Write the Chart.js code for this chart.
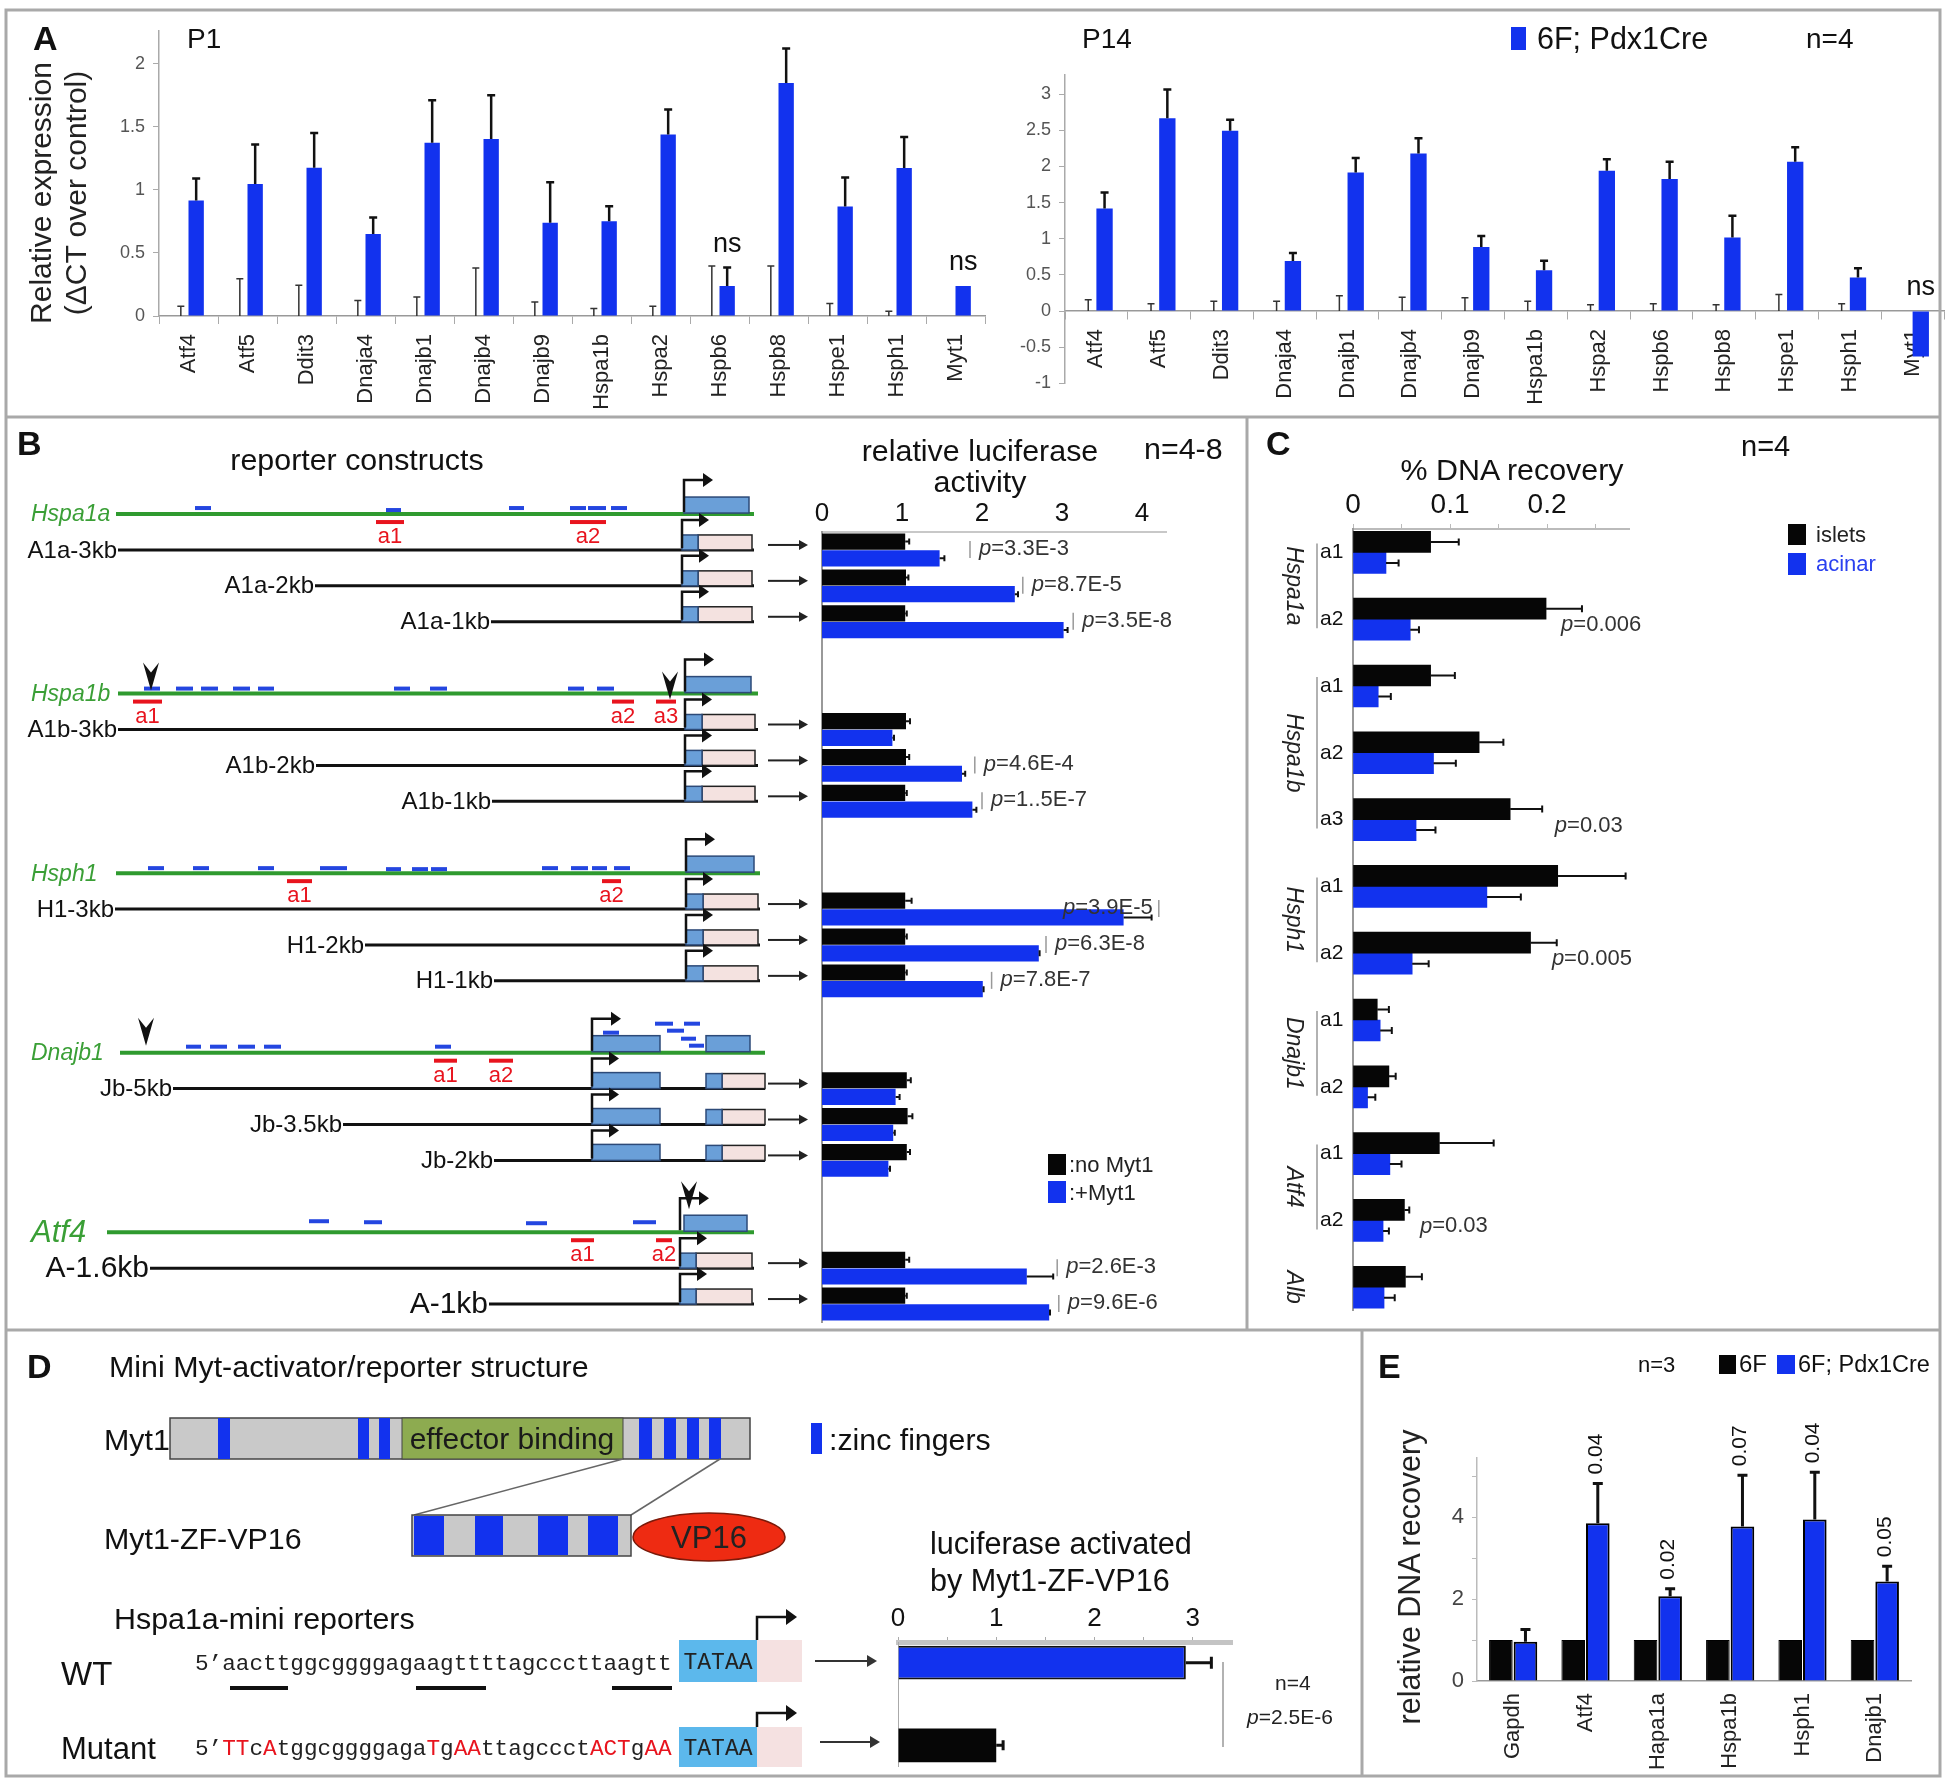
<!DOCTYPE html>
<html>
<head>
<meta charset="utf-8">
<title>Myt1 target genes</title>
<script src="https://cdn.jsdelivr.net/npm/chart.js@4.4.1/dist/chart.umd.min.js"></script>
<style>
  html, body { margin: 0; padding: 0; background: #fff; }
  #page { position: relative; width: 1950px; height: 1786px; overflow: hidden; background: #fff; }
  #page canvas { position: absolute; }
  #overlay { position: absolute; left: 0; top: 0; pointer-events: none; font-family: 'Liberation Sans', Arial, sans-serif; }
</style>
</head>
<body>
<div id="page">
  <canvas id="cP1" width="1000" height="412" style="left:0;top:12px;width:1000px;height:412px"></canvas>
  <canvas id="cP14" width="950" height="402" style="left:1000px;top:12px;width:950px;height:402px"></canvas>
  <canvas id="cB" width="1245" height="908" style="left:0;top:420px;width:1245px;height:908px"></canvas>
  <canvas id="cC" width="690" height="908" style="left:1250px;top:420px;width:690px;height:908px"></canvas>
  <canvas id="cD" width="400" height="190" style="left:860px;top:1580px;width:400px;height:190px"></canvas>
  <canvas id="cE" width="580" height="440" style="left:1365px;top:1333px;width:580px;height:440px"></canvas>

  <svg id="overlay" width="1950" height="1786" xmlns="http://www.w3.org/2000/svg">
    <!-- frame -->
    <g stroke="#a9a9a9" stroke-width="3" fill="none">
      <rect x="6" y="10" width="1934" height="1766"/>
      <line x1="6" y1="417" x2="1940" y2="417"/>
      <line x1="1247" y1="417" x2="1247" y2="1330"/>
      <line x1="6" y1="1330" x2="1940" y2="1330"/>
      <line x1="1362" y1="1330" x2="1362" y2="1776"/>
    </g>
    <g font-weight="bold" font-size="34" fill="#111">
      <text x="33" y="50">A</text>
      <text x="17" y="455">B</text>
      <text x="1266" y="455">C</text>
      <text x="27" y="1378">D</text>
      <text x="1378" y="1378">E</text>
    </g>

    <!-- panel A -->
    <text x="187" y="48" font-size="28" fill="#111">P1</text>
    <text x="1082" y="48" font-size="28" fill="#111">P14</text>
    <rect x="1511" y="27" width="15" height="23" fill="#1232ee"/>
    <text x="1537" y="49" font-size="30.5" fill="#111">6F; Pdx1Cre</text>
    <text x="1806" y="48" font-size="28" fill="#111">n=4</text>
    <text transform="translate(40,193) rotate(-90)" text-anchor="middle" dominant-baseline="central" font-size="30" fill="#222">Relative expression</text>
    <text transform="translate(75,193) rotate(-90)" text-anchor="middle" dominant-baseline="central" font-size="30" fill="#222">(ΔCT over control)</text>

    <!-- panel B -->
    <text x="357" y="470" text-anchor="middle" font-size="30.4" fill="#111">reporter constructs</text>
    <text x="980" y="461" text-anchor="middle" font-size="30.4" fill="#111">relative luciferase</text>
    <text x="980" y="492" text-anchor="middle" font-size="30.4" fill="#111">activity</text>
    <text x="1144" y="459" font-size="30.4" fill="#111">n=4-8</text>
    <rect x="1048" y="1154" width="18" height="21" fill="#060606"/>
    <text x="1069" y="1172" font-size="22" fill="#222">:no Myt1</text>
    <rect x="1048" y="1181" width="18" height="22" fill="#1232ee"/>
    <text x="1069" y="1200" font-size="22" fill="#222">:+Myt1</text>

    <!-- panel C -->
    <text x="1512" y="480" text-anchor="middle" font-size="30.4" fill="#111">% DNA recovery</text>
    <text x="1741" y="456" font-size="29" fill="#111">n=4</text>
    <rect x="1788" y="524" width="18" height="21" fill="#060606"/>
    <text x="1816" y="542" font-size="22" fill="#222">islets</text>
    <rect x="1788" y="553" width="18" height="22" fill="#1232ee"/>
    <text x="1816" y="571" font-size="22" fill="#2a40f0">acinar</text>

    <!-- panel D diagram -->
    <text x="109" y="1377" font-size="30.4" fill="#111">Mini Myt-activator/reporter structure</text>
    <text x="104" y="1450" font-size="30.4" fill="#111">Myt1</text>
    <rect x="170" y="1418" width="580" height="41" fill="#c9c9c9" stroke="#444" stroke-width="1.5"/>
    <rect x="402" y="1418" width="221" height="41" fill="#8dab50" stroke="#444" stroke-width="1"/>
    <g fill="#1232ee">
      <rect x="218" y="1418" width="12" height="41"/>
      <rect x="358" y="1418" width="11" height="41"/>
      <rect x="379" y="1418" width="11" height="41"/>
      <rect x="639" y="1418" width="13" height="41"/>
      <rect x="664" y="1418" width="12" height="41"/>
      <rect x="687" y="1418" width="12" height="41"/>
      <rect x="709" y="1418" width="12" height="41"/>
      <rect x="811" y="1423" width="11" height="31"/>
    </g>
    <text x="512" y="1449" text-anchor="middle" font-size="30" fill="#1a1a1a">effector binding</text>
    <text x="829" y="1450" font-size="30.3" fill="#111">:zinc fingers</text>
    <line x1="623" y1="1459" x2="414" y2="1515" stroke="#666" stroke-width="1.5"/>
    <line x1="720" y1="1459" x2="631" y2="1515" stroke="#666" stroke-width="1.5"/>
    <text x="104" y="1549" font-size="30.4" fill="#111">Myt1-ZF-VP16</text>
    <rect x="412" y="1515" width="219" height="41" fill="#c9c9c9" stroke="#444" stroke-width="1.5"/>
    <g fill="#1232ee">
      <rect x="414" y="1516" width="30" height="39"/>
      <rect x="475" y="1516" width="28" height="39"/>
      <rect x="538" y="1516" width="30" height="39"/>
      <rect x="588" y="1516" width="30" height="39"/>
    </g>
    <ellipse cx="709" cy="1537" rx="76" ry="24" fill="#ee2b12" stroke="#7a1a0a" stroke-width="1.5"/>
    <text x="709" y="1548" text-anchor="middle" font-size="31" fill="#222">VP16</text>
    <text x="930" y="1554" font-size="30.6" fill="#111">luciferase activated</text>
    <text x="930" y="1591" font-size="30.6" fill="#111">by Myt1-ZF-VP16</text>
    <text x="114" y="1629" font-size="30.4" fill="#111">Hspa1a-mini reporters</text>

    <text x="61" y="1685" font-size="33" fill="#111">WT</text>
    <text x="195" y="1670" font-family="'Liberation Mono', monospace" font-size="22.7" fill="#222">5’aacttggcggggagaagttttagcccttaagtt</text>
    <g fill="#111">
      <rect x="230" y="1686" width="58" height="4"/>
      <rect x="416" y="1686" width="70" height="4"/>
      <rect x="612" y="1686" width="60" height="4"/>
    </g>
    <rect x="679" y="1640" width="78" height="42" fill="#5cb8ec"/>
    <rect x="757" y="1640" width="45" height="42" fill="#f5e1e1"/>
    <text x="718" y="1669" text-anchor="middle" font-family="'Liberation Mono', monospace" font-size="23" fill="#222">TATAA</text>
    <path d="M757 1640 V1617 H787" stroke="#111" stroke-width="2.5" fill="none"/>
    <path d="M797 1617 L786 1609 L786 1625 Z" fill="#111"/>
    <line x1="815" y1="1661" x2="868" y2="1661" stroke="#333" stroke-width="2"/>
    <path d="M877 1661 L867 1655 L867 1667 Z" fill="#333"/>

    <text x="61" y="1759" font-size="31" fill="#111">Mutant</text>
    <text x="195" y="1755" font-family="'Liberation Mono', monospace" font-size="22.7" fill="#222">5’<tspan fill="#e8141e">TT</tspan>c<tspan fill="#e8141e">A</tspan>tggcggggaga<tspan fill="#e8141e">T</tspan>g<tspan fill="#e8141e">AA</tspan>ttagccct<tspan fill="#e8141e">ACT</tspan>g<tspan fill="#e8141e">AA</tspan></text>
    <rect x="679" y="1727" width="78" height="40" fill="#5cb8ec"/>
    <rect x="757" y="1727" width="45" height="40" fill="#f5e1e1"/>
    <text x="718" y="1755" text-anchor="middle" font-family="'Liberation Mono', monospace" font-size="23" fill="#222">TATAA</text>
    <path d="M757 1727 V1713 H787" stroke="#111" stroke-width="2.5" fill="none"/>
    <path d="M797 1713 L786 1705 L786 1721 Z" fill="#111"/>
    <line x1="820" y1="1742" x2="871" y2="1742" stroke="#333" stroke-width="2"/>
    <path d="M880 1742 L870 1736 L870 1748 Z" fill="#333"/>
    <line x1="1223" y1="1662" x2="1223" y2="1747" stroke="#999" stroke-width="1.5"/>
    <text x="1275" y="1690" font-size="21" fill="#222">n=4</text>
    <text x="1247" y="1724" font-size="21" fill="#222"><tspan font-style="italic">p</tspan>=2.5E-6</text>

    <!-- panel E -->
    <text x="1638" y="1372" font-size="22" fill="#111">n=3</text>
    <rect x="1719" y="1355" width="17" height="19" fill="#060606"/>
    <text x="1739" y="1372" font-size="24" fill="#111">6F</text>
    <rect x="1777" y="1355" width="18" height="19" fill="#1232ee"/>
    <text x="1798" y="1372" font-size="23.5" fill="#111">6F; Pdx1Cre</text>
    <text transform="translate(1409,1577) rotate(-90)" text-anchor="middle" dominant-baseline="central" font-size="30.5" fill="#222">relative DNA recovery</text>
  </svg>
</div>

<script>
const BLUE = '#1232ee';
const BLACK = '#060606';
const FONT = "'Liberation Sans', Arial, sans-serif";

// ---------- A: relative expression, P1 and P14 ----------
const genes = ['Atf4', 'Atf5', 'Ddit3', 'Dnaja4', 'Dnajb1', 'Dnajb4', 'Dnajb9', 'Hspa1b', 'Hspa2', 'Hspb6', 'Hspb8', 'Hspe1', 'Hsph1', 'Myt1'];
const p1Myt = [0.915, 1.046, 1.174, 0.649, 1.372, 1.403, 0.738, 0.751, 1.438, 0.238, 1.846, 0.867, 1.172, 0.238];
const p1MytErr = [0.175, 0.314, 0.276, 0.131, 0.338, 0.347, 0.322, 0.119, 0.198, 0.147, 0.274, 0.23, 0.246, null];
const p1CtrlErr = [0.077, 0.295, 0.244, 0.123, 0.15, 0.38, 0.11, 0.059, 0.077, 0.397, 0.397, 0.10, 0.038, null];
const p1Notes = ['', '', '', '', '', '', '', '', '', 'ns', '', '', '', 'ns'];
const p14Myt = [1.418, 2.665, 2.494, 0.693, 1.917, 2.18, 0.887, 0.564, 1.94, 1.825, 1.016, 2.065, 0.462, -0.63];
const p14MytErr = [0.22, 0.40, 0.15, 0.11, 0.20, 0.21, 0.15, 0.13, 0.16, 0.24, 0.30, 0.20, 0.13, null];
const p14CtrlErr = [0.157, 0.10, 0.134, 0.134, 0.21, 0.19, 0.185, 0.134, 0.088, 0.10, 0.088, 0.23, 0.10, null];
const p14Notes = ['', '', '', '', '', '', '', '', '', '', '', '', '', 'ns'];

// ---------- B: luciferase reporters ----------
const lucGroups = ['Hspa1a', 'Hspa1b', 'Hsph1', 'Dnajb1', 'Atf4'];
const lucPerGroup = [3, 3, 3, 3, 2];
const lucConstructs = ['A1a-3kb', 'A1a-2kb', 'A1a-1kb', 'A1b-3kb', 'A1b-2kb', 'A1b-1kb', 'H1-3kb', 'H1-2kb', 'H1-1kb', 'Jb-5kb', 'Jb-3.5kb', 'Jb-2kb', 'A-1.6kb', 'A-1kb'];
const lucNoMyt = [1.04, 1.05, 1.04, 1.05, 1.05, 1.04, 1.04, 1.04, 1.04, 1.06, 1.07, 1.06, 1.04, 1.04];
const lucNoMytErr = [0.05, 0.03, 0.02, 0.05, 0.04, 0.02, 0.08, 0.02, 0.02, 0.05, 0.06, 0.04, 0.05, 0.02];
const lucMyt = [1.47, 2.41, 3.02, 0.88, 1.75, 1.88, 3.77, 2.71, 2.01, 0.92, 0.89, 0.83, 2.56, 2.84];
const lucMytErr = [0.06, 0.04, 0.05, 0.02, 0.04, 0.05, 0.35, 0.01, 0.01, 0.05, 0.02, 0.02, 0.33, 0.01];
const lucP = ['p=3.3E-3', 'p=8.7E-5', 'p=3.5E-8', '', 'p=4.6E-4', 'p=1..5E-7', 'p=3.9E-5', 'p=6.3E-8', 'p=7.8E-7', '', '', '', 'p=2.6E-3', 'p=9.6E-6'];
const lucPMark = [1.85, 2.51, 3.14, null, 1.91, 2.0, 4.21, 2.8, 2.12, null, null, null, 2.94, 2.96];

// ---------- C: ChIP, % DNA recovery ----------
const chipGenes = ['Hspa1a', 'Hspa1a', 'Hspa1b', 'Hspa1b', 'Hspa1b', 'Hsph1', 'Hsph1', 'Dnajb1', 'Dnajb1', 'Atf4', 'Atf4', 'Alb'];
const chipSites = ['a1', 'a2', 'a1', 'a2', 'a3', 'a1', 'a2', 'a1', 'a2', 'a1', 'a2', ''];
const islets = [0.080, 0.199, 0.080, 0.130, 0.162, 0.211, 0.183, 0.025, 0.037, 0.089, 0.053, 0.054];
const isletsErr = [0.029, 0.037, 0.025, 0.025, 0.033, 0.070, 0.027, 0.012, 0.007, 0.056, 0.005, 0.017];
const acinar = [0.034, 0.059, 0.026, 0.083, 0.065, 0.138, 0.061, 0.028, 0.015, 0.038, 0.031, 0.032];
const acinarErr = [0.013, 0.009, 0.013, 0.023, 0.020, 0.035, 0.017, 0.012, 0.008, 0.012, 0.006, 0.011];
const chipP = ['', 'p=0.006', '', '', 'p=0.03', '', 'p=0.005', '', '', '', 'p=0.03', ''];
const chipPAt = [null, 0.2145, null, null, 0.208, null, 0.205, null, null, null, 0.069, null];

// ---------- D: mini reporters ----------
const miniLabels = ['WT', 'Mutant'];
const miniValues = [2.93, 1.0];
const miniErr = [0.26, 0.07];

// ---------- E: ChIP 6F vs 6F; Pdx1Cre ----------
const eGenes = ['Gapdh', 'Atf4', 'Hapa1a', 'Hspa1b', 'Hsph1', 'Dnajb1'];
const e6F = [1, 1, 1, 1, 1, 1];
const ePdx = [0.955, 3.85, 2.07, 3.77, 3.94, 2.43];
const ePdxErr = [0.30, 0.97, 0.18, 1.25, 1.15, 0.37];
const eP = ['', '0.04', '0.02', '0.07', '0.04', '0.05'];

Chart.defaults.font.family = FONT;
Chart.defaults.color = '#222';
Chart.defaults.animation = false;
Chart.defaults.plugins.legend.display = false;
Chart.defaults.plugins.tooltip.enabled = false;

const fixW = w => s => { s.width = w; };
const fixH = h => s => { s.height = h; };
const plain = v => String(+Number(v).toFixed(2));

// one-sided error bars read from dataset.errors
const errorBars = {
  id: 'errorBars',
  afterDatasetsDraw(chart) {
    const ctx = chart.ctx;
    const horiz = chart.options.indexAxis === 'y';
    const vScale = horiz ? chart.scales.x : chart.scales.y;
    chart.data.datasets.forEach((ds, di) => {
      if (!ds.errors) return;
      const meta = chart.getDatasetMeta(di);
      meta.data.forEach((bar, i) => {
        const e = ds.errors[i];
        const p = meta.controller.getParsed(i);
        const v = p ? (horiz ? p.x : p.y) : null;
        if (e == null || v == null || isNaN(v)) return;
        const base = vScale.getPixelForValue(v);
        const tip = vScale.getPixelForValue(v + e);
        const c = (ds.capSize || 8) / 2;
        ctx.save();
        ctx.strokeStyle = ds.errColor || '#111';
        ctx.lineWidth = ds.errWidth || 2;
        ctx.beginPath();
        if (horiz) {
          ctx.moveTo(base, bar.y); ctx.lineTo(tip, bar.y);
          ctx.moveTo(tip, bar.y - c); ctx.lineTo(tip, bar.y + c);
        } else {
          ctx.moveTo(bar.x, base); ctx.lineTo(bar.x, tip);
          ctx.moveTo(bar.x - c, tip); ctx.lineTo(bar.x + c, tip);
        }
        ctx.stroke();
        ctx.restore();
      });
    });
  }
};

// text placed above a bar (ns / p-values)
const barNotes = {
  id: 'barNotes',
  afterDatasetsDraw(chart) {
    const ctx = chart.ctx, y = chart.scales.y;
    chart.data.datasets.forEach((ds, di) => {
      if (!ds.notes) return;
      const meta = chart.getDatasetMeta(di);
      meta.data.forEach((bar, i) => {
        const t = ds.notes[i];
        if (!t) return;
        const top = y.getPixelForValue(Math.max(ds.data[i] + (ds.errors[i] || 0), 0));
        ctx.save();
        ctx.fillStyle = '#111';
        ctx.font = ds.noteFont;
        ctx.textBaseline = 'middle';
        if (ds.noteRotate) {
          ctx.translate(bar.x - 2, top - 9);
          ctx.rotate(-Math.PI / 2);
          ctx.textAlign = 'left';
          ctx.fillText(t, 0, 0);
        } else {
          ctx.textAlign = 'center';
          ctx.fillText(t, bar.x, top - 23);
        }
        ctx.restore();
      });
    });
  }
};

function expressionChart(id, myt, mytErr, ctrlErr, notes, yOpts, xPos, pad, xH) {
  return new Chart(document.getElementById(id), {
    type: 'bar',
    data: {
      labels: genes,
      datasets: [
        { label: 'control', data: genes.map(() => 0), errors: ctrlErr, backgroundColor: 'rgba(0,0,0,0)',
          errColor: '#333', errWidth: 1.5, capSize: 7 },
        { label: '6F; Pdx1Cre', data: myt, errors: mytErr, backgroundColor: BLUE,
          errColor: '#111', errWidth: 2.5, capSize: 8, notes: notes, noteFont: '27px ' + FONT }
      ]
    },
    options: {
      responsive: false, devicePixelRatio: 1,
      layout: { padding: pad },
      datasets: { bar: { categoryPercentage: 0.52, barPercentage: 1 } },
      scales: {
        x: {
          position: xPos,
          grid: { drawOnChartArea: false, tickLength: 8, color: '#aaa' },
          border: { color: '#999', width: 1.5 },
          ticks: { minRotation: 90, maxRotation: 90, autoSkip: false, font: { size: 22 }, color: '#222', padding: 10 },
          afterFit: fixH(xH)
        },
        y: Object.assign({
          ticks: { stepSize: 0.5, includeBounds: false, font: { size: 18 }, color: '#555', padding: 8, callback: plain },
          grid: { drawOnChartArea: false, tickLength: 6, color: '#aaa' },
          border: { color: '#aaa', width: 1.5 },
          afterFit: fixW(60)
        }, yOpts)
      }
    },
    plugins: [errorBars, barNotes]
  });
}

expressionChart('cP1', p1Myt, p1MytErr, p1CtrlErr, p1Notes, { min: 0, max: 2.26 }, 'bottom',
  { left: 99, top: 10, right: 15, bottom: 0 }, 108);
expressionChart('cP14', p14Myt, p14MytErr, p14CtrlErr, p14Notes, { min: -1, max: 3.27 }, { y: 0 },
  { left: 5, top: 62.6, right: 6, bottom: 30.7 }, 98);

// ---------- B: rows, with gene maps drawn on the same y scale ----------
const rowOf = [], geneRowOf = [];
let r = 0, c = 0;
lucPerGroup.forEach((n, gi) => {
  if (gi > 0) r += 2;
  geneRowOf.push(r - 1);
  for (let j = 0; j < n; j++) rowOf[c++] = r++;
});
const nRows = r;
const bLabels = Array(nRows).fill('');
const bNo = Array(nRows).fill(null), bNoErr = Array(nRows).fill(null);
const bMyt = Array(nRows).fill(null), bMytErr = Array(nRows).fill(null);
rowOf.forEach((row, i) => {
  bLabels[row] = lucConstructs[i];
  bNo[row] = lucNoMyt[i]; bNoErr[row] = lucNoMytErr[i];
  bMyt[row] = lucMyt[i]; bMytErr[row] = lucMytErr[i];
});

// drawing geometry of the gene maps (pixels)
const mapArt = [
  { line: [116, 754], exons: [[684, 749]], tss: 684,
    sites: [[195, 211, -6], [386, 401, -4], [509, 524, -6], [570, 586, -6], [588, 606, -6], [611, 627, -6]],
    red: [[376, 404, 'a1'], [570, 606, 'a2']], chev: [],
    starts: [118, 315, 491], rep: [[682, 698], [698, 752]], cExon: null, big: false },
  { line: [118, 758], exons: [[685, 751]], tss: 685,
    sites: [[144, 160, -5], [176, 193, -5], [201, 218, -5], [233, 250, -5], [258, 274, -5], [394, 410, -5], [430, 447, -5], [568, 584, -5], [597, 614, -5]],
    red: [[133, 162, 'a1'], [612, 634, 'a2'], [656, 676, 'a3']], chev: [[151, -3], [670, 6]],
    starts: [118, 316, 492], rep: [[685, 702], [702, 755]], cExon: null, big: false },
  { line: [116, 760], exons: [[686, 754]], tss: 686,
    sites: [[148, 164, -5], [193, 209, -5], [258, 274, -5], [320, 347, -5], [386, 401, -4], [412, 428, -4], [431, 447, -4], [542, 558, -5], [571, 588, -5], [592, 607, -5], [614, 630, -5]],
    red: [[287, 312, 'a1'], [602, 621, 'a2']], chev: [],
    starts: [115, 365, 494], rep: [[686, 703], [703, 758]], cExon: null, big: false },
  { line: [120, 765], exons: [[592, 660], [706, 750]], tss: 592,
    sites: [[186, 201, -6], [210, 227, -6], [238, 255, -6], [264, 281, -6], [435, 451, -6], [603, 619, -20], [655, 673, -29], [684, 700, -29], [667, 684, -22], [681, 696, -14], [689, 704, -7]],
    red: [[434, 457, 'a1'], [489, 513, 'a2']], chev: [[146, -7]],
    starts: [173, 343, 494], rep: [[706, 722], [722, 765]], cExon: [592, 660], big: false },
  { line: [107, 754], exons: [[684, 747]], tss: 680,
    sites: [[309, 329, -11], [364, 382, -10], [526, 547, -9], [633, 656, -10]],
    red: [[571, 594, 'a1'], [656, 672, 'a2']], chev: [[689, -23]],
    starts: [150, 489], rep: [[680, 696], [696, 752]], cExon: null, big: true }
];

function bentArrow(ctx, x, y, h, w) {
  ctx.beginPath(); ctx.moveTo(x, y); ctx.lineTo(x, y - h); ctx.lineTo(x + w, y - h); ctx.stroke();
  ctx.beginPath(); ctx.moveTo(x + w + 9, y - h); ctx.lineTo(x + w - 1, y - h - 7); ctx.lineTo(x + w - 1, y - h + 7);
  ctx.closePath(); ctx.fill();
}
function chevron(ctx, x, tip) {
  ctx.beginPath(); ctx.moveTo(x, tip); ctx.lineTo(x - 8, tip - 28); ctx.lineTo(x, tip - 18); ctx.lineTo(x + 8, tip - 28);
  ctx.closePath(); ctx.fill();
}
function pText(ctx, t, x, y, align) {
  const rest = t.slice(1);
  ctx.font = 'italic 22px ' + FONT;
  const wp = ctx.measureText('p').width;
  ctx.font = '22px ' + FONT;
  const wr = ctx.measureText(rest).width;
  const x0 = align === 'right' ? x - wp - wr : x;
  ctx.textAlign = 'left';
  ctx.font = 'italic 22px ' + FONT; ctx.fillText('p', x0, y);
  ctx.font = '22px ' + FONT; ctx.fillText(rest, x0 + wp, y);
}

const luciferaseMaps = {
  id: 'luciferaseMaps',
  afterDraw(chart) {
    const ctx = chart.ctx, ys = chart.scales.y, xs = chart.scales.x;
    ctx.save();
    ctx.textBaseline = 'middle';
    let ci = 0;
    lucGroups.forEach((g, gi) => {
      const a = mapArt[gi];
      const gy = ys.getPixelForValue(geneRowOf[gi]);
      // gene line
      ctx.fillStyle = '#3a9f36';
      ctx.font = 'italic ' + (a.big ? 31 : 23) + 'px ' + FONT;
      ctx.textAlign = 'left';
      ctx.fillText(g, 31, gy + 1);
      ctx.strokeStyle = '#2f9a2f'; ctx.lineWidth = 4;
      ctx.beginPath(); ctx.moveTo(a.line[0], gy); ctx.lineTo(a.line[1], gy); ctx.stroke();
      a.exons.forEach(e => {
        ctx.fillStyle = '#6a9fd8'; ctx.fillRect(e[0], gy - 17, e[1] - e[0], 16);
        ctx.strokeStyle = '#2d4a78'; ctx.lineWidth = 1.5; ctx.strokeRect(e[0], gy - 17, e[1] - e[0], 16);
      });
      ctx.strokeStyle = '#111'; ctx.fillStyle = '#111'; ctx.lineWidth = 2.5;
      bentArrow(ctx, a.tss, gy - 2, 32, 20);
      ctx.fillStyle = '#2446e0';
      a.sites.forEach(s => ctx.fillRect(s[0], gy + s[2] - 2, s[1] - s[0], 4));
      a.red.forEach(s => {
        ctx.fillStyle = '#e8141e';
        ctx.fillRect(s[0], gy + 6, s[1] - s[0], 4);
        ctx.font = '22px ' + FONT; ctx.textAlign = 'center';
        ctx.fillText(s[2], (s[0] + s[1]) / 2, gy + 23);
      });
      ctx.fillStyle = '#111';
      a.chev.forEach(cv => chevron(ctx, cv[0], gy + cv[1]));
      // constructs
      for (let j = 0; j < lucPerGroup[gi]; j++, ci++) {
        const y = ys.getPixelForValue(rowOf[ci]);
        const x0 = a.starts[j];
        ctx.fillStyle = '#111';
        ctx.font = (a.big ? 30 : 24) + 'px ' + FONT;
        ctx.textAlign = 'right';
        ctx.fillText(lucConstructs[ci], x0 - 1, y + 1);
        ctx.strokeStyle = '#111'; ctx.lineWidth = 3;
        ctx.beginPath(); ctx.moveTo(x0, y); ctx.lineTo(a.line[1], y); ctx.stroke();
        if (a.cExon) {
          ctx.fillStyle = '#6a9fd8'; ctx.fillRect(a.cExon[0], y - 16, a.cExon[1] - a.cExon[0], 16);
          ctx.strokeStyle = '#2d4a78'; ctx.lineWidth = 1.5; ctx.strokeRect(a.cExon[0], y - 16, a.cExon[1] - a.cExon[0], 16);
        }
        ctx.fillStyle = '#f4e2e0'; ctx.fillRect(a.rep[1][0], y - 15, a.rep[1][1] - a.rep[1][0], 15);
        ctx.strokeStyle = '#222'; ctx.lineWidth = 1.5; ctx.strokeRect(a.rep[1][0], y - 15, a.rep[1][1] - a.rep[1][0], 15);
        ctx.fillStyle = '#6a9fd8'; ctx.fillRect(a.rep[0][0], y - 15, a.rep[0][1] - a.rep[0][0], 15);
        ctx.strokeStyle = '#2d4a78'; ctx.strokeRect(a.rep[0][0], y - 15, a.rep[0][1] - a.rep[0][0], 15);
        ctx.strokeStyle = '#111'; ctx.fillStyle = '#111'; ctx.lineWidth = 2.5;
        bentArrow(ctx, a.cExon ? a.cExon[0] : a.rep[0][0], y - 2, 28, 18);
        ctx.strokeStyle = '#222'; ctx.lineWidth = 2;
        ctx.beginPath(); ctx.moveTo(768, y - 5); ctx.lineTo(800, y - 5); ctx.stroke();
        ctx.fillStyle = '#222';
        ctx.beginPath(); ctx.moveTo(808, y - 5); ctx.lineTo(799, y - 10); ctx.lineTo(799, y); ctx.closePath(); ctx.fill();
        // p value
        if (lucP[ci]) {
          const mx = xs.getPixelForValue(lucPMark[ci]);
          ctx.strokeStyle = '#999'; ctx.lineWidth = 1.5;
          ctx.beginPath(); ctx.moveTo(mx, y - 9); ctx.lineTo(mx, y + 8); ctx.stroke();
          ctx.fillStyle = '#333';
          if (lucPMark[ci] > 4) pText(ctx, lucP[ci], mx - 6, y - 1, 'right');
          else pText(ctx, lucP[ci], mx + 9, y - 1, 'left');
        }
      }
    });
    ctx.restore();
  }
};

new Chart(document.getElementById('cB'), {
  type: 'bar',
  data: {
    labels: bLabels,
    datasets: [
      { label: ':no Myt1', data: bNo, errors: bNoErr, backgroundColor: BLACK, errWidth: 2, capSize: 6 },
      { label: ':+Myt1', data: bMyt, errors: bMytErr, backgroundColor: BLUE, errWidth: 2, capSize: 6 }
    ]
  },
  options: {
    responsive: false, devicePixelRatio: 1, indexAxis: 'y',
    layout: { padding: { left: 822, top: 72, right: 79, bottom: 6 } },
    datasets: { bar: { categoryPercentage: 0.93, barPercentage: 0.97 } },
    scales: {
      x: {
        position: 'top', min: 0, max: 4.3,
        ticks: { stepSize: 1, includeBounds: false, font: { size: 26 }, color: '#111', padding: 3 },
        grid: { display: false, drawTicks: false },
        border: { color: '#c8c8c8', width: 2 },
        afterFit: fixH(40)
      },
      y: {
        ticks: { display: false }, grid: { display: false, drawTicks: false },
        border: { color: '#999', width: 2 },
        afterFit: fixW(0)
      }
    }
  },
  plugins: [errorBars, luciferaseMaps]
});

// ---------- C ----------
const chipLabels = {
  id: 'chipLabels',
  afterDraw(chart) {
    const { ctx, chartArea, scales: { x, y } } = chart;
    ctx.save();
    ctx.fillStyle = '#111';
    ctx.textBaseline = 'middle';
    ctx.font = '21px ' + FONT;
    ctx.textAlign = 'left';
    chipSites.forEach((s, i) => { if (s) ctx.fillText(s, chartArea.left - 33, y.getPixelForValue(i)); });
    let start = 0;
    for (let i = 1; i <= chipGenes.length; i++) {
      if (i === chipGenes.length || chipGenes[i] !== chipGenes[start]) {
        const y1 = y.getPixelForValue(start), y2 = y.getPixelForValue(i - 1);
        if (chipSites[start]) {
          ctx.strokeStyle = '#999'; ctx.lineWidth = 1.5;
          ctx.beginPath(); ctx.moveTo(chartArea.left - 36, y1 - 9); ctx.lineTo(chartArea.left - 36, y2 + 9); ctx.stroke();
        }
        ctx.save();
        ctx.translate(chartArea.left - 60, (y1 + y2) / 2);
        ctx.rotate(Math.PI / 2);
        ctx.textAlign = 'center';
        ctx.font = 'italic 23px ' + FONT;
        ctx.fillStyle = '#222';
        ctx.fillText(chipGenes[start], 0, 0);
        ctx.restore();
        start = i;
      }
    }
    ctx.fillStyle = '#333';
    chipP.forEach((t, i) => { if (t) pText(ctx, t, x.getPixelForValue(chipPAt[i]), y.getPixelForValue(i) + 6, 'left'); });
    ctx.restore();
  }
};

new Chart(document.getElementById('cC'), {
  type: 'bar',
  data: {
    datasets: [
      { label: 'islets', data: islets.map((v, i) => ({ x: v, y: i })), errors: isletsErr, backgroundColor: BLACK, errWidth: 2, capSize: 7 },
      { label: 'acinar', data: acinar.map((v, i) => ({ x: v, y: i })), errors: acinarErr, backgroundColor: BLUE, errWidth: 2, capSize: 7 }
    ]
  },
  options: {
    responsive: false, devicePixelRatio: 1, indexAxis: 'y',
    layout: { padding: { left: 103, top: 64, right: 310.5, bottom: 17.4 } },
    datasets: { bar: { barThickness: 21 } },
    scales: {
      x: {
        type: 'linear', position: 'top', min: 0, max: 0.285,
        ticks: { stepSize: 0.05, includeBounds: false, font: { size: 28 }, color: '#111', padding: 2,
          callback: v => Math.abs(v * 10 - Math.round(v * 10)) < 1e-6 ? String(+v.toFixed(1)) : '' },
        grid: { drawOnChartArea: false, tickLength: 5, color: '#bbb' },
        border: { color: '#bbb', width: 2 },
        afterFit: fixH(45)
      },
      y: {
        type: 'linear', reverse: true, min: -0.35, max: 11.35, offset: false, bounds: 'data',
        ticks: { display: false, stepSize: 1, includeBounds: false },
        grid: { display: false, drawTicks: false, offset: false },
        border: { color: '#999', width: 2 },
        afterFit: fixW(0)
      }
    }
  },
  plugins: [errorBars, chipLabels]
});

// ---------- D: mini reporter activity ----------
const dLabels = [miniLabels[0], '', miniLabels[1]];
new Chart(document.getElementById('cD'), {
  type: 'bar',
  data: {
    labels: dLabels,
    datasets: [
      { label: miniLabels[0], data: [miniValues[0], null, null], errors: [miniErr[0], null, null],
        backgroundColor: BLUE, borderColor: '#111', borderWidth: 2, errWidth: 3, capSize: 12 },
      { label: miniLabels[1], data: [null, null, miniValues[1]], errors: [null, null, miniErr[1]],
        backgroundColor: BLACK, errWidth: 3, capSize: 10 }
    ]
  },
  options: {
    responsive: false, devicePixelRatio: 1, indexAxis: 'y',
    layout: { padding: { left: 38, top: 17, right: 28, bottom: 4 } },
    datasets: { bar: { grouped: false, categoryPercentage: 1, barPercentage: 0.82 } },
    scales: {
      x: {
        position: 'top', min: 0, max: 3.4,
        ticks: { stepSize: 0.5, includeBounds: false, font: { size: 26 }, color: '#111', padding: 3,
          callback: v => Number.isInteger(v) ? v : '' },
        grid: { drawOnChartArea: false, tickLength: 5, color: '#aaa' },
        border: { color: '#c4c4c4', width: 5 },
        afterFit: fixH(45)
      },
      y: {
        ticks: { display: false }, grid: { display: false, drawTicks: false },
        border: { color: '#aaa', width: 1 },
        afterFit: fixW(0)
      }
    }
  },
  plugins: [errorBars]
});

// ---------- E ----------
new Chart(document.getElementById('cE'), {
  type: 'bar',
  data: {
    labels: eGenes,
    datasets: [
      { label: '6F', data: e6F, backgroundColor: BLACK, borderColor: '#000', borderWidth: 1 },
      { label: '6F; Pdx1Cre', data: ePdx, errors: ePdxErr, backgroundColor: BLUE, borderColor: '#000', borderWidth: 2,
        errWidth: 3, capSize: 10, notes: eP, noteRotate: true, noteFont: '21px ' + FONT }
    ]
  },
  options: {
    responsive: false, devicePixelRatio: 1,
    layout: { padding: { left: 72, top: 125, right: 34, bottom: 0 } },
    datasets: { bar: { categoryPercentage: 0.68, barPercentage: 0.96 } },
    scales: {
      x: {
        grid: { display: false, drawTicks: false },
        border: { color: '#999', width: 1.5 },
        ticks: { minRotation: 90, maxRotation: 90, autoSkip: false, font: { size: 22 }, color: '#222', padding: 12 },
        afterFit: fixH(92)
      },
      y: {
        min: 0, max: 5.44,
        ticks: { stepSize: 1, includeBounds: false, font: { size: 22 }, color: '#444', padding: 8,
          callback: v => v % 2 === 0 ? v : '' },
        grid: { drawOnChartArea: false, tickLength: 5, color: '#bbb' },
        border: { color: '#bbb', width: 1.5 },
        afterFit: fixW(40)
      }
    }
  },
  plugins: [errorBars, barNotes]
});
</script>
</body>
</html>
